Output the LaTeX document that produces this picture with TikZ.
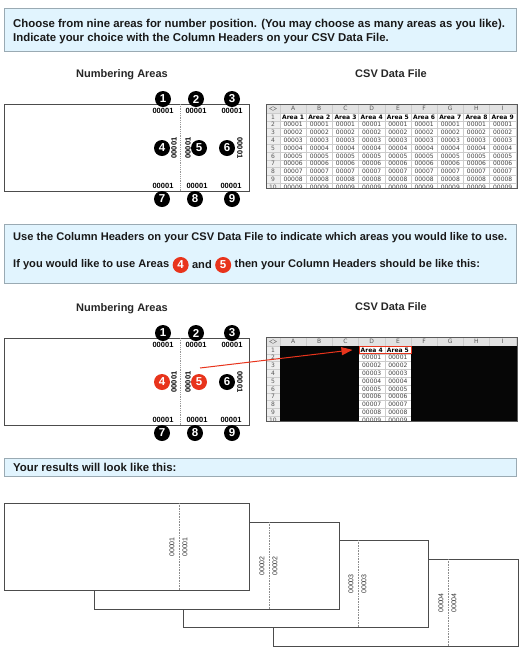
\documentclass[tikz,border=0pt]{standalone}
\usepackage{fontspec}
\setmainfont{Liberation Sans}
\newfontfamily\cellfont{DejaVu Sans}
\usetikzlibrary{arrows.meta,positioning,calc,shapes.geometric}

\definecolor{bannerblue}{HTML}{E1F4FE}
\definecolor{bannerline}{HTML}{9AAAB3}
\definecolor{areared}{HTML}{E8341C}
\definecolor{hdrgray}{HTML}{E2E2E2}
\definecolor{rowgray}{HTML}{EEEEEE}
\definecolor{gridgray}{HTML}{CCCCCC}
\definecolor{blackout}{HTML}{060606}

\begin{document}
\begin{tikzpicture}[x=1pt, y=-1pt, >=Stealth,
  banner/.style={draw=bannerline, fill=bannerblue, line width=1pt, anchor=north west, minimum width=512pt, inner sep=0pt},
  bannertext/.style={font=\bfseries\fontsize{11.4}{13.5}\selectfont, text=black!90, align=left, anchor=west, inner sep=0pt},
  usetext/.style={bannertext, font=\bfseries\fontsize{11.1}{13.5}\selectfont},
  heading/.style={font=\bfseries\fontsize{11}{13}\selectfont, text=black!85},
  areabox/.style={draw=black!70, line width=0.9pt, fill=white, anchor=north west, minimum width=245pt, minimum height=87pt, inner sep=0pt},
  perf/.style={draw=black!40, densely dotted, line width=0.8pt},
  areanum/.style={circle, fill=black, text=white, inner sep=0pt, minimum size=16pt, font=\bfseries\fontsize{11.5}{11.5}\selectfont},
  numlbl/.style={font=\bfseries\fontsize{7.5}{7.5}\selectfont, inner sep=0pt},
  ticket/.style={draw=black!70, line width=0.8pt, fill=white, anchor=north west, minimum width=245pt, minimum height=87pt, inner sep=0pt},
  ticketperf/.style={draw=black!45, densely dotted, line width=0.6pt},
  ticketlbl/.style={font=\fontsize{7}{7}\selectfont, text=black!80, inner sep=0pt, rotate=90},
  csvframe/.style={draw=black!65, line width=1pt, anchor=north west, minimum width=251pt, minimum height=84pt, inner sep=0pt},
  colhead/.style={font=\cellfont\fontsize{6}{6}\selectfont, text=black!65, inner sep=0pt},
  cell/.style={font=\cellfont\fontsize{6}{6}\selectfont, text=black!75, inner sep=0pt},
  cellhead/.style={font=\cellfont\bfseries\fontsize{6}{6}\selectfont, text=black, inner sep=0pt},
  redarrow/.style={draw=areared, line width=1pt, -{Triangle[length=11pt,width=8pt]}}]
\useasboundingbox (0,0) rectangle (526,657);

% banners
\node[banner, minimum height=43pt] (banner1) at (4,8) {};
\node[bannertext] (intro) at (13,31.5) {Choose from nine areas for number position. (You may choose as many areas as you like).\\Indicate your choice with the Column Headers on your CSV Data File.};
\node[banner, minimum height=59pt] (banner2) at (4,224) {};
\node[usetext] (usehdr) at (13,238) {Use the Column Headers on your CSV Data File to indicate which areas you would like to use.};
\node[usetext] (ifuse) at (13,265) {If you would like to use Areas};
\node[areanum, fill=areared, right=3pt of ifuse] (b4) {4};
\node[usetext, right=3pt of b4] (andtxt) {and};
\node[areanum, fill=areared, right=3pt of andtxt] (b5) {5};
\node[usetext, right=3pt of b5] (thentxt) {then your Column Headers should be like this:};
\node[banner, minimum height=18pt] (banner3) at (4,458) {};
\node[bannertext] (results) at (13,467) {Your results will look like this:};

% numbering areas
\foreach \a/\dy/\hl in {1/0/black, 2/234/areared}{
  \begin{scope}[shift={(0,\dy)}]
    \node[heading] (areatitle\a) at (122,75) {Numbering Areas};
    \node[areabox] (area\a) at (4,104) {};
    \draw[perf] (180.5,104) -- (180.5,191);
    \foreach \i/\x in {1/163, 2/196, 3/232}{
      \node[areanum] (n\a-\i) at (\x,99) {\i};
      \node[numlbl] (t\a-\i) at (\x,111) {00001};
    }
    \node[areanum, fill=\hl] (n\a-4) at (162,148) {4};
    \node[numlbl, rotate=90] (m\a-4) at (174,148) {00001};
    \node[numlbl, rotate=90] (m\a-5) at (188,148) {00001};
    \node[areanum, fill=\hl] (n\a-5) at (199,148) {5};
    \node[areanum] (n\a-6) at (227,148) {6};
    \node[numlbl, rotate=-90] (m\a-6) at (240,148) {00001};
    \foreach \i/\x/\xl in {7/162/163, 8/195/197, 9/232/231}{
      \node[numlbl] (b\a-\i) at (\xl,186) {00001};
      \node[areanum] (n\a-\i) at (\x,199) {\i};
    }
  \end{scope}
}

% csv tables
\foreach \tb/\ty in {1/104, 2/337}{
  \begin{scope}[shift={(0,\ty)}]
    \node[heading] (csvtitle\tb) at (391,-30) {CSV Data File};
    \begin{scope}
      \clip (266,0) rectangle (517,84);
      \fill[hdrgray] (266,0) rectangle (517,9);
      \fill[rowgray] (266,9) rectangle (280,84);
      \foreach \k in {0,...,9}
        \draw[gridgray, line width=0.4pt] ({280+26.2*\k},0) -- ({280+26.2*\k},84);
      \foreach \k in {0,...,10}
        \draw[gridgray, line width=0.4pt] (266,{9+7.8*\k}) -- (517,{9+7.8*\k});
      \ifnum\tb=2
        \fill[blackout] (280,9) rectangle (358.6,84);
        \fill[blackout] (411,9) rectangle (517,84);
      \fi
      \node[draw=black!55, diamond, aspect=1.8, inner sep=0pt, minimum width=7pt, minimum height=4pt, line width=0.4pt] (corner\tb) at (273,4.5) {};
      \foreach \c [count=\i] in {A,B,C,D,E,F,G,H,I}
        \node[colhead] (col\tb-\i) at ({266.9+26.2*\i},4.5) {\c};
      \foreach \r in {1,...,10}
        \node[colhead] (row\tb-\r) at (273,{9+7.8*\r-3.9}) {\r};
      \ifnum\tb=1
        \def\cols{1,2,3,4,5,6,7,8,9}
      \else
        \def\cols{4,5}
      \fi
      \foreach \i in \cols{
        \node[cellhead] (h\tb-\i) at ({266.9+26.2*\i},12.9) {Area \i};
        \foreach \r in {2,...,10}{
          \pgfmathtruncatemacro\v{\r-1}
          \node[cell] (c\tb-\i-\r) at ({266.9+26.2*\i},{9+7.8*\r-3.9}) {0000\v};
        }
      }
    \end{scope}
    \node[csvframe] (csv\tb) at (266,0) {};
    \ifnum\tb=2
      \node[draw=areared, line width=1pt, minimum width=52.4pt, minimum height=7.8pt, inner sep=0pt] (hdr) at (385.2,12.9) {};
    \fi
  \end{scope}
}

% arrow from area 5 to the headers
\coordinate (arrowstart) at (200,368);
\draw[redarrow] (arrowstart) -- ([xshift=-6pt]hdr.west);

% results
\foreach \t/\x/\y in {4/273/559, 3/183/540, 2/94/522, 1/4/503}{
  \node[ticket] (ticket\t) at (\x,\y) {};
  \draw[ticketperf] ($(ticket\t.north west)+(175,0)$) -- ($(ticket\t.south west)+(175,0)$);
  \node[ticketlbl] (stub\t) at (\x+168,\y+44) {0000\t};
  \node[ticketlbl] (tkt\t) at (\x+181,\y+44) {0000\t};
}
\end{tikzpicture}
\end{document}
